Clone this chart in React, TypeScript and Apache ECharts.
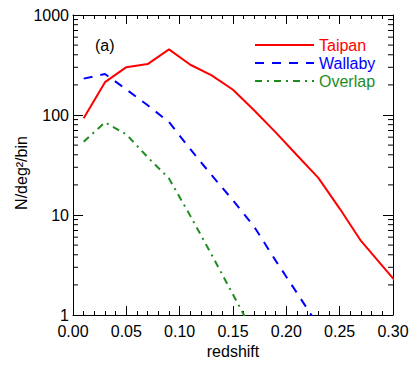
import React, { useEffect, useRef } from "react";
import * as echarts from "echarts";

// ---- data ----
const zTaipan = [0.01, 0.03, 0.05, 0.07, 0.09, 0.11, 0.13, 0.15, 0.17, 0.19, 0.21, 0.23, 0.25, 0.27, 0.29, 0.31];
const nTaipan = [93, 213, 301, 323, 453, 318, 249, 179, 111, 67, 39.6, 23.5, 11.6, 5.5, 3.1, 1.75];

const zWallaby = [0.01, 0.03, 0.05, 0.07, 0.09, 0.11, 0.13, 0.15, 0.17, 0.19, 0.21, 0.23];
const nWallaby = [231, 257, 180, 125, 85, 45.5, 25, 14, 7.6, 3.5, 1.66, 0.78];

const zOverlap = [0.01, 0.03, 0.05, 0.07, 0.09, 0.11, 0.13, 0.15, 0.17];
const nOverlap = [54, 84.5, 64, 37.8, 23.2, 9.8, 4.0, 1.6, 0.64];

const yMinorTicks = [2, 3, 4, 5, 6, 7, 8, 9, 20, 30, 40, 50, 60, 70, 80, 90, 200, 300, 400, 500, 600, 700, 800, 900];

const X_MIN = 0;
const X_MAX = 0.3;
const X_STEP = 0.05;
const Y_MIN = 1;
const Y_MAX = 1000;

const FONT = "'Liberation Sans', Arial, Helvetica, sans-serif";
const RED = "#ff0000";
const BLUE = "#0000ff";
const GREEN = "#1f8c1f";

const pairs = (xs: number[], ys: number[]) => xs.map((x, i) => [x, ys[i]]);

export default function App() {
  const ref = useRef<HTMLDivElement>(null);

  useEffect(() => {
    if (!ref.current) return;
    const chart = echarts.init(ref.current, undefined, { renderer: "svg" });

    const axisCommonX = {
      type: "value" as const,
      min: X_MIN,
      max: X_MAX,
      interval: X_STEP,
      axisLine: { show: true, onZero: false, lineStyle: { color: "#000", width: 1 } },
      axisTick: { show: true, inside: true, length: 9, lineStyle: { color: "#000", width: 1 } },
      minorTick: { show: true, splitNumber: 5, length: 4, lineStyle: { color: "#000", width: 1 } },
      splitLine: { show: false },
      minorSplitLine: { show: false },
    };

    const axisCommonY = {
      type: "log" as const,
      logBase: 10,
      min: Y_MIN,
      max: Y_MAX,
      axisLine: { show: true, onZero: false, lineStyle: { color: "#000", width: 1 } },
      axisTick: { show: true, inside: true, length: 10, lineStyle: { color: "#000", width: 1 } },
      splitLine: { show: false },
    };

    const option: any = {
      animation: false,
      backgroundColor: "#fff",
      textStyle: { fontFamily: FONT },
      grid: { left: 73, right: 22, top: 15, bottom: 59, containLabel: false },
      xAxis: [
        {
          ...axisCommonX,
          position: "bottom",
          axisLabel: {
            formatter: (v: number) => v.toFixed(2),
            fontSize: 16,
            color: "#000",
            margin: 8,
            fontFamily: FONT,
          },
          name: "redshift",
          nameLocation: "middle",
          nameGap: 25,
          nameTextStyle: { fontSize: 16, color: "#000", fontFamily: FONT },
        },
        {
          ...axisCommonX,
          position: "top",
          axisLabel: { show: false },
        },
      ],
      yAxis: [
        {
          ...axisCommonY,
          position: "left",
          axisLabel: {
            formatter: (v: number) => String(Math.round(v)),
            fontSize: 16,
            color: "#000",
            margin: 4,
            fontFamily: FONT,
          },
        },
        {
          ...axisCommonY,
          position: "right",
          axisLabel: { show: false },
        },
      ],
      legend: {
        orient: "vertical",
        left: 254,
        top: 37,
        padding: 0,
        itemWidth: 59,
        itemHeight: 16,
        itemGap: 2,
        selectedMode: false,
        itemStyle: { opacity: 0 },
        textStyle: { fontSize: 16, fontFamily: FONT },
        data: [
          { name: "Taipan", textStyle: { color: RED } },
          { name: "Wallaby", textStyle: { color: BLUE } },
          { name: "Overlap", textStyle: { color: GREEN } },
        ],
      },
      graphic: [
        {
          type: "text",
          x: 21,
          y: 173,
          rotation: Math.PI / 2,
          style: {
            text: "N/deg²/bin",
            fontSize: 16,
            fontFamily: FONT,
            fill: "#000",
            align: "center",
            verticalAlign: "middle",
          },
        },
        {
          type: "text",
          x: 95,
          y: 45,
          style: {
            text: "(a)",
            fontSize: 16,
            fontFamily: FONT,
            fill: "#000",
            align: "left",
            verticalAlign: "middle",
          },
        },
      ],
      series: [
        {
          name: "Taipan",
          type: "line",
          data: pairs(zTaipan, nTaipan),
          symbol: "none",
          clip: true,
          lineStyle: { color: RED, width: 2, type: "solid" },
          itemStyle: { color: RED },
        },
        {
          name: "Wallaby",
          type: "line",
          data: pairs(zWallaby, nWallaby),
          symbol: "none",
          clip: true,
          lineStyle: { color: BLUE, width: 2, type: [9, 8] },
          itemStyle: { color: BLUE },
        },
        {
          name: "Overlap",
          type: "line",
          data: pairs(zOverlap, nOverlap),
          symbol: "none",
          clip: true,
          lineStyle: { color: GREEN, width: 2, type: [7, 5, 2, 5] },
          itemStyle: { color: GREEN },
        },
        {
          name: "yMinorTicks",
          type: "custom",
          silent: true,
          clip: false,
          xAxisIndex: 0,
          yAxisIndex: 0,
          data: yMinorTicks.map((v) => [X_MIN, v]),
          renderItem: (_params: any, api: any) => {
            const v = api.value(1);
            const pL = api.coord([X_MIN, v]);
            const pR = api.coord([X_MAX, v]);
            return {
              type: "group",
              children: [
                {
                  type: "line",
                  shape: { x1: pL[0], y1: pL[1], x2: pL[0] + 5, y2: pL[1] },
                  style: { stroke: "#000", lineWidth: 1 },
                },
                {
                  type: "line",
                  shape: { x1: pR[0] - 5, y1: pR[1], x2: pR[0], y2: pR[1] },
                  style: { stroke: "#000", lineWidth: 1 },
                },
              ],
            };
          },
        },
      ],
    };

    chart.setOption(option);
    return () => chart.dispose();
  }, []);

  return (
    <div
      ref={ref}
      style={{ position: "fixed", left: 0, top: 0, width: 415, height: 374, background: "#fff" }}
    />
  );
}
